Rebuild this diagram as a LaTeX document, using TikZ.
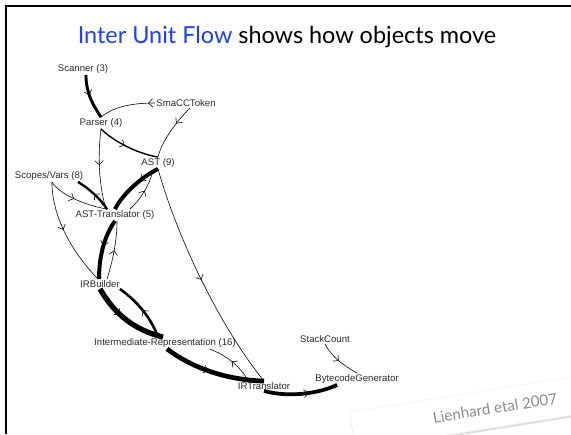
\documentclass[tikz,border=0pt]{standalone}
\usepackage{fontspec}
\newfontfamily\unitfont{Liberation Sans}
\newfontfamily\slidefont{Lato}
\usepackage{tikz}
\usetikzlibrary{arrows.meta,decorations.markings,shadows}
\definecolor{SlideBlue}{HTML}{1F3FF5}
\definecolor{SlideGray}{HTML}{8C8C8C}
\definecolor{LabelBlack}{HTML}{2A2A2A}
\tikzset{
    % Unit label
    unitnode/.style={
        font=\unitfont\fontsize{8.2}{9.5}\selectfont,
        text=LabelBlack,
        inner sep=1pt
    },
    % Slide title
    titlenode/.style={
        font=\slidefont\fontsize{20}{23}\selectfont,
        inner sep=0pt
    },
    % Citation strip
    stripnode/.style={
        fill=white,
        draw=black!6,
        rotate=9,
        minimum width=330*0.85pt,
        minimum height=38*0.85pt,
        drop shadow={shadow xshift=0pt, shadow yshift=-2pt, opacity=0.25}
    },
    % Citation text
    citenode/.style={
        font=\slidefont\fontsize{13}{15}\selectfont,
        text=SlideGray,
        rotate=9,
        inner sep=0pt
    },
    % Flow between units (width = amount)
    flow/.style={
        draw=black,
        line width=#1
    },
    % Chevron along a flow
    tipat/.style={
        postaction={decorate},
        decoration={markings,
            mark=at position #1 with {\arrow[line width=0.5pt]{Straight Barb[length=3.5pt,width=7pt]}}}
    }
}
\begin{document}
\begin{tikzpicture}[x=0.3mm, y=-0.3mm]
\useasboundingbox (0,0) rectangle (571,434);
% slide frame and title
\draw[line width=1.5pt] (571,6) -- (6,6) -- (6,434);
\node[titlenode] (title) at (287,37) {\textcolor{SlideBlue}{Inter Unit Flow} shows how objects move};

% units
\node[unitnode] (scanner) at (83,69) {Scanner (3)};
\node[unitnode] (smacc) at (186,103) {SmaCCToken};
\node[unitnode] (parser) at (101,123) {Parser (4)};
\node[unitnode] (ast) at (158,163) {AST (9)};
\node[unitnode] (scopes) at (49,176) {Scopes/Vars (8)};
\node[unitnode] (asttr) at (115,215) {AST-Translator (5)};
\node[unitnode] (irb) at (100,284) {IRBuilder};
\node[unitnode] (ir) at (165,343) {Intermediate-Representation (16)};
\node[unitnode] (irt) at (264,386) {IRTranslator};
\node[unitnode] (stack) at (325,339) {StackCount};
\node[unitnode] (bcg) at (357,379) {BytecodeGenerator};

% flows
\draw[flow=2.5pt, tipat=0.45] ([xshift=2.5pt]scanner.south) .. controls (86,95) and (95,108) .. (parser.north);
\draw[flow=0.5pt, tipat=0.12] (smacc.west) .. controls (138,103) and (115,105) .. (parser.north);
\draw[flow=0.5pt, tipat=0.35] ([xshift=3.4pt]smacc.south) .. controls (178,120) and (162,140) .. (ast.north);
\draw[flow=1.2pt, tipat=0.45] (parser.south) .. controls (112,140) and (135,153) .. (ast.north);
\draw[flow=0.5pt, tipat=0.45] (parser.south) .. controls (97,160) and (100,190) .. ([xshift=-7.6pt]asttr.north);
\draw[flow=3.4pt, tipat=0.35] (ast.south) .. controls (140,178) and (122,195) .. (asttr.north);
\draw[flow=0.5pt, tipat=0.5] ([xshift=12.8pt]asttr.north) .. controls (140,200) and (150,185) .. ([xshift=-4pt]ast.south);
\draw[flow=0.5pt, tipat=0.5] (ast.south) .. controls (175,230) and (215,320) .. (irt.north);
\draw[flow=0.5pt, tipat=0.45] ([xshift=2.5pt]scopes.south) .. controls (60,195) and (85,205) .. ([xshift=-6.8pt]asttr.north);
\draw[flow=2pt, tipat=0.5] ([xshift=-6.8pt]asttr.north) .. controls (100,198) and (88,188) .. ([xshift=24.7pt]scopes.south);
\draw[flow=0.5pt, tipat=0.45] ([xshift=2.5pt]scopes.south) .. controls (52,215) and (70,250) .. ([xshift=-1.7pt]irb.north);
\draw[flow=3.4pt, tipat=0.45] (asttr.south) .. controls (105,235) and (99,255) .. ([xshift=-0.85pt]irb.north);
\draw[flow=0.5pt, tipat=0.5] ([xshift=6pt]irb.north) .. controls (113,260) and (117,240) .. ([xshift=1.7pt]asttr.south);
\draw[flow=4.5pt, tipat=0.4] (irb.south) .. controls (115,315) and (135,330) .. ([xshift=-1.7pt]ir.north);
\draw[flow=2.2pt, tipat=0.5] ([xshift=-6pt]ir.north) .. controls (150,315) and (135,300) .. ([xshift=17pt]irb.south);
\draw[flow=4pt, tipat=0.45] ([xshift=1.7pt]ir.south) .. controls (195,370) and (230,380) .. (irt.north);
\draw[flow=0.5pt, tipat=0.5] ([xshift=-13.6pt]irt.north) .. controls (240,365) and (225,355) .. ([xshift=38pt]ir.south);
\draw[flow=3.2pt, tipat=0.6] (irt.south) .. controls (290,398) and (320,393) .. ([xshift=-17pt]bcg.south);
\draw[flow=0.5pt, tipat=0.5] (stack.south) .. controls (332,358) and (345,366) .. (bcg.north);

% citation strip
\node[stripnode] (strip) at (515,405) {};
\node[citenode] (cite) at (495,408) {Lienhard etal 2007};
\end{tikzpicture}
\end{document}
